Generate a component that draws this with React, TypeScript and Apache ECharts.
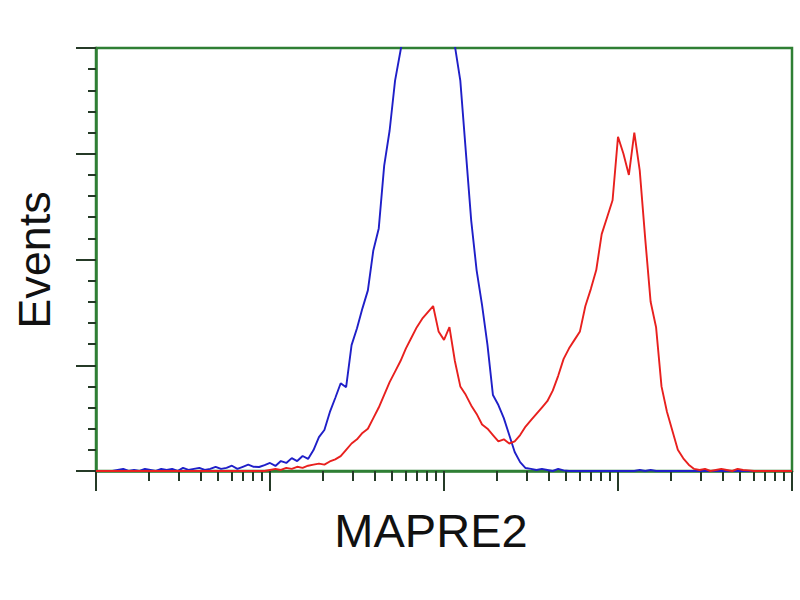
import React, { useEffect, useRef } from "react";
import * as echarts from "echarts";

// channel step between points (x axis in channels, 256 channels per decade)
const CHANNEL_STEP = 8;
const X_MAX = 1024;
const DECADE = 256;
const MINOR_MULTIPLIERS = [2, 3, 4, 5, 6, 7, 8, 9];

const blueCounts = [
  0, 0, 0, 0, 0.5, 1, 0, 0.5, 0, 1, 0.5, 0, 1, 0.5, 1, 0, 1.5, 0.5, 1, 1.5, 0.5, 1, 2, 1, 1.5, 2.5, 1, 2, 3, 2,
  1.9, 2.8, 3.8, 2.4, 4.7, 3.8, 6.1, 4.7, 7.1, 5.7, 9.9,
  16, 19.4, 27.8, 34.5, 41.5, 39.6, 59.5, 67.5, 76.9, 85.4, 104.3, 114.7, 144.4, 161, 184.6, 198.7,
  213, 225, 235, 245, 250, 248, 240, 232, 222,
  201, 184.6, 151.5, 118.5, 94.9, 78.4, 59.5, 35.9, 31.2, 25, 17, 9, 4.2, 1.4, 1,
  0.5, 1, 0.5, 0, 1, 0.3,
  0, 0, 0, 0, 0, 0, 0, 0, 0, 0, 0, 0, 0, 0.5, 0, 0.5, 0, 0, 0, 0, 0,
  0, 0, 0, 0, 0, 0, 0, 0, 0, 0, 0, 0, 0, 0, 0, 0, 0, 0, 0, 0, 0,
];

const redCounts = [
  0, 0, 0, 0, 0, 0, 0, 0, 0, 0, 0, 0, 0, 0, 0, 0, 0, 0, 0, 0, 0, 0, 0, 0, 0, 0, 0, 0, 0, 0, 0, 0,
  0.5, 1, 0.5, 1.5, 1, 2, 1.5, 2.5, 3, 3.5, 3, 4.5,
  5.5, 7, 10, 13, 15, 18, 20, 25, 30, 36, 42, 47, 52, 58, 63, 68, 72, 75, 78,
  66, 62, 68, 52, 40, 36, 31, 27, 22, 20, 17, 14, 15, 13, 14, 17, 21, 24,
  27, 30, 33, 38, 45, 53, 58, 62, 66, 78, 86, 95, 112, 120, 128, 158, 150, 140, 160, 142,
  110, 80, 68, 40, 28, 19, 10, 6, 3, 1,
  0.5, 1, 0, 0.5, 1, 0.5, 0, 1, 0.5, 0.3, 0, 0, 0, 0, 0, 0, 0, 0,
];

const Y_MAX = 200;
const Y_INTERVAL = 50;

const xTitle = "MAPRE2";
const yTitle = "Events";

const GREEN = "#2f7f34";
const TICK = "#253a27";

export default function App() {
  const ref = useRef<HTMLDivElement>(null);

  useEffect(() => {
    if (!ref.current) return;
    const chart = echarts.init(ref.current, null, { renderer: "svg" });

    const toPairs = (arr: number[]) => arr.map((v, i) => [i * CHANNEL_STEP, v]);

    const minorTicks: number[] = [];
    for (let d = 0; d * DECADE < X_MAX; d++) {
      for (const m of MINOR_MULTIPLIERS) {
        const c = d * DECADE + DECADE * Math.log10(m);
        if (c < X_MAX) minorTicks.push(c);
      }
    }

    chart.setOption({
      animation: false,
      backgroundColor: "#ffffff",
      grid: {
        left: 96,
        right: 8,
        top: 48,
        bottom: 129,
        show: true,
        borderColor: GREEN,
        borderWidth: 2.5,
        backgroundColor: "transparent",
      },
      xAxis: [
        {
          type: "value",
          min: 0,
          max: X_MAX,
          interval: DECADE,
          axisLine: { show: true, onZero: false, lineStyle: { color: GREEN, width: 2.5 } },
          axisTick: { show: true, inside: false, length: 20, lineStyle: { color: TICK, width: 2 } },
          axisLabel: { show: false },
          splitLine: { show: false },
        },
        {
          type: "value",
          min: 0,
          max: X_MAX,
          position: "bottom",
          offset: 0,
          axisLine: { show: false, onZero: false },
          axisTick: {
            show: true,
            inside: false,
            length: 10,
            customValues: minorTicks,
            lineStyle: { color: TICK, width: 2 },
          },
          axisLabel: { show: false },
          splitLine: { show: false },
        },
      ],
      yAxis: {
        type: "value",
        min: 0,
        max: Y_MAX,
        interval: Y_INTERVAL,
        axisLine: { show: true, onZero: false, lineStyle: { color: GREEN, width: 2.5 } },
        axisTick: { show: true, inside: false, length: 20, lineStyle: { color: TICK, width: 2 } },
        minorTick: { show: true, splitNumber: 5, length: 8, lineStyle: { color: TICK, width: 2 } },
        axisLabel: { show: false },
        splitLine: { show: false },
      },
      series: [
        {
          type: "line",
          name: "control",
          data: toPairs(blueCounts),
          showSymbol: false,
          symbol: "none",
          clip: true,
          lineStyle: { color: "#1f1fc8", width: 1.9 },
          z: 3,
        },
        {
          type: "line",
          name: "MAPRE2",
          data: toPairs(redCounts),
          showSymbol: false,
          symbol: "none",
          clip: true,
          lineStyle: { color: "#e8201e", width: 1.9 },
          z: 4,
        },
      ],
      graphic: [
        {
          type: "text",
          x: 34,
          y: 260,
          rotation: Math.PI / 2,
          style: {
            text: yTitle,
            fontFamily: "Liberation Sans, Arial, sans-serif",
            fontSize: 45,
            fill: "#111111",
            textAlign: "center",
            textVerticalAlign: "middle",
          },
        },
        {
          type: "text",
          x: 431,
          y: 530,
          style: {
            text: xTitle,
            fontFamily: "Liberation Sans, Arial, sans-serif",
            fontSize: 47,
            fill: "#111111",
            textAlign: "center",
            textVerticalAlign: "middle",
          },
        },
      ],
    });

    return () => chart.dispose();
  }, []);

  return (
    <div
      ref={ref}
      style={{ position: "fixed", left: 0, top: 0, width: 800, height: 600 }}
    />
  );
}
